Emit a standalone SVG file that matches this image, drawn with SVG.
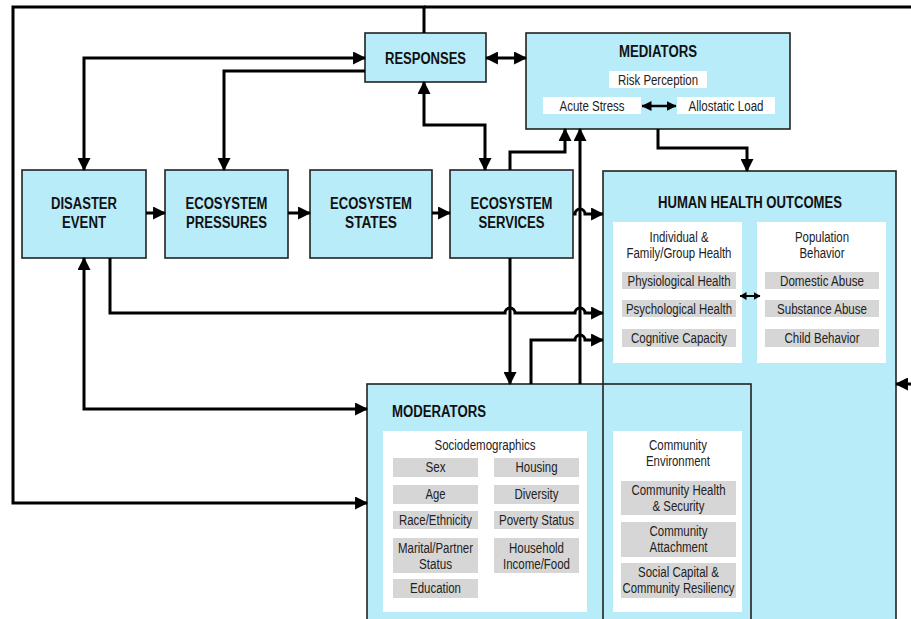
<svg xmlns="http://www.w3.org/2000/svg" width="911" height="619" viewBox="0 0 911 619">
<style>
.box{fill:#b9ecf9;stroke:#222;stroke-width:1.6}
.fill{fill:#b9ecf9}
.ol{fill:none;stroke:#222;stroke-width:1.6}
.white{fill:#fff}
.gray{fill:#d6d6d6}
.b{font-family:"Liberation Sans",Arial,sans-serif;font-weight:bold;font-size:16px;fill:#111;text-anchor:middle}
.t{font-family:"Liberation Sans",Arial,sans-serif;font-size:14px;fill:#222;text-anchor:middle}
.c{fill:none;stroke:#000;stroke-width:3}
.cs{fill:none;stroke:#000;stroke-width:2.5}
.cx{fill:none;stroke:#000;stroke-width:2}
</style>
<defs>
<marker id="a" markerUnits="userSpaceOnUse" markerWidth="13" markerHeight="13" viewBox="0 0 12 12" refX="11" refY="6" orient="auto-start-reverse"><path d="M0,0 L12,6 L0,12 z" fill="#000"/></marker>
<marker id="as" markerUnits="userSpaceOnUse" markerWidth="10" markerHeight="10" viewBox="0 0 10 10" refX="9.5" refY="5" orient="auto-start-reverse"><path d="M0,0 L10,5 L0,10 z" fill="#000"/></marker>
<marker id="ax" markerUnits="userSpaceOnUse" markerWidth="7" markerHeight="8" viewBox="0 0 7 8" refX="6.5" refY="4" orient="auto-start-reverse"><path d="M0,0 L7,4 L0,8 z" fill="#000"/></marker>
</defs>
<rect width="911" height="619" fill="#fff"/>

<g id="responses">
<rect class="box" x="365" y="33" width="121" height="49"/>
<text class="b" x="425.5" y="64" textLength="81" lengthAdjust="spacingAndGlyphs">RESPONSES</text>
</g>

<g id="mediators">
<rect class="box" x="526" y="33" width="264" height="96"/>
<text class="b" x="658" y="57" textLength="78" lengthAdjust="spacingAndGlyphs">MEDIATORS</text>
<rect class="white" x="609" y="71" width="98" height="17"/>
<text class="t" x="658" y="84.5" textLength="80" lengthAdjust="spacingAndGlyphs">Risk Perception</text>
<rect class="white" x="543" y="97" width="98" height="17"/>
<text class="t" x="592" y="110.5" textLength="65" lengthAdjust="spacingAndGlyphs">Acute Stress</text>
<rect class="white" x="677" y="97" width="98" height="17"/>
<text class="t" x="726" y="110.5" textLength="75" lengthAdjust="spacingAndGlyphs">Allostatic Load</text>
</g>

<g id="disaster-event">
<rect class="box" x="22" y="170" width="124" height="88"/>
<text class="b" x="84" y="209" textLength="66" lengthAdjust="spacingAndGlyphs">DISASTER</text>
<text class="b" x="84" y="228" textLength="44" lengthAdjust="spacingAndGlyphs">EVENT</text>
</g>

<g id="ecosystem-pressures">
<rect class="box" x="165" y="170" width="123" height="88"/>
<text class="b" x="226.5" y="209" textLength="82" lengthAdjust="spacingAndGlyphs">ECOSYSTEM</text>
<text class="b" x="226.5" y="228" textLength="81" lengthAdjust="spacingAndGlyphs">PRESSURES</text>
</g>

<g id="ecosystem-states">
<rect class="box" x="310" y="170" width="122" height="88"/>
<text class="b" x="371" y="209" textLength="82" lengthAdjust="spacingAndGlyphs">ECOSYSTEM</text>
<text class="b" x="371" y="228" textLength="52" lengthAdjust="spacingAndGlyphs">STATES</text>
</g>

<g id="ecosystem-services">
<rect class="box" x="450" y="170" width="123" height="88"/>
<text class="b" x="511.5" y="209" textLength="82" lengthAdjust="spacingAndGlyphs">ECOSYSTEM</text>
<text class="b" x="511.5" y="228" textLength="66" lengthAdjust="spacingAndGlyphs">SERVICES</text>
</g>

<g id="human-health-outcomes">
<rect class="fill" x="603" y="171" width="293" height="460"/>
<text class="b" x="750" y="208" textLength="184" lengthAdjust="spacingAndGlyphs">HUMAN HEALTH OUTCOMES</text>
<rect class="white" x="613" y="222" width="129" height="141"/>
<text class="t" x="679" y="242" textLength="59" lengthAdjust="spacingAndGlyphs">Individual &amp;</text>
<text class="t" x="679" y="258" textLength="105" lengthAdjust="spacingAndGlyphs">Family/Group Health</text>
<rect class="gray" x="622" y="272" width="114" height="17"/>
<text class="t" x="679" y="285.5" textLength="103" lengthAdjust="spacingAndGlyphs">Physiological Health</text>
<rect class="gray" x="622" y="300" width="114" height="17"/>
<text class="t" x="679" y="313.5" textLength="106" lengthAdjust="spacingAndGlyphs">Psychological Health</text>
<rect class="gray" x="622" y="329" width="114" height="18"/>
<text class="t" x="679" y="342.5" textLength="96" lengthAdjust="spacingAndGlyphs">Cognitive Capacity</text>
<rect class="white" x="757" y="222" width="129" height="141"/>
<text class="t" x="822" y="242" textLength="54" lengthAdjust="spacingAndGlyphs">Population</text>
<text class="t" x="822" y="258" textLength="45" lengthAdjust="spacingAndGlyphs">Behavior</text>
<rect class="gray" x="765" y="272" width="114" height="17"/>
<text class="t" x="822" y="285.5" textLength="84" lengthAdjust="spacingAndGlyphs">Domestic Abuse</text>
<rect class="gray" x="765" y="300" width="114" height="17"/>
<text class="t" x="822" y="313.5" textLength="90" lengthAdjust="spacingAndGlyphs">Substance Abuse</text>
<rect class="gray" x="765" y="329" width="114" height="18"/>
<text class="t" x="822" y="342.5" textLength="75" lengthAdjust="spacingAndGlyphs">Child Behavior</text>
<path class="cx" d="M740 296 H760" marker-start="url(#ax)" marker-end="url(#ax)"/>
</g>

<g id="moderators">
<rect class="fill" x="367" y="384" width="384" height="247"/>
<text class="b" x="392" y="417" style="text-anchor:start" textLength="94" lengthAdjust="spacingAndGlyphs">MODERATORS</text>
<rect class="white" x="383" y="431" width="204" height="181"/>
<text class="t" x="485" y="450" textLength="101" lengthAdjust="spacingAndGlyphs">Sociodemographics</text>
<rect class="gray" x="393" y="458" width="85" height="19"/>
<text class="t" x="435.5" y="472" textLength="20" lengthAdjust="spacingAndGlyphs">Sex</text>
<rect class="gray" x="494" y="458" width="85" height="19"/>
<text class="t" x="536.5" y="472" textLength="42" lengthAdjust="spacingAndGlyphs">Housing</text>
<rect class="gray" x="393" y="485" width="85" height="19"/>
<text class="t" x="435.5" y="499" textLength="20" lengthAdjust="spacingAndGlyphs">Age</text>
<rect class="gray" x="494" y="485" width="85" height="19"/>
<text class="t" x="536.5" y="499" textLength="44" lengthAdjust="spacingAndGlyphs">Diversity</text>
<rect class="gray" x="393" y="511" width="85" height="18"/>
<text class="t" x="435.5" y="524.5" textLength="73" lengthAdjust="spacingAndGlyphs">Race/Ethnicity</text>
<rect class="gray" x="494" y="511" width="85" height="18"/>
<text class="t" x="536.5" y="524.5" textLength="75" lengthAdjust="spacingAndGlyphs">Poverty Status</text>
<rect class="gray" x="393" y="538" width="85" height="35"/>
<text class="t" x="435.5" y="553" textLength="75" lengthAdjust="spacingAndGlyphs">Marital/Partner</text>
<text class="t" x="435.5" y="568.5" textLength="33" lengthAdjust="spacingAndGlyphs">Status</text>
<rect class="gray" x="494" y="538" width="85" height="35"/>
<text class="t" x="536.5" y="553" textLength="55" lengthAdjust="spacingAndGlyphs">Household</text>
<text class="t" x="536.5" y="568.5" textLength="67" lengthAdjust="spacingAndGlyphs">Income/Food</text>
<rect class="gray" x="393" y="579" width="85" height="19"/>
<text class="t" x="435.5" y="593" textLength="51" lengthAdjust="spacingAndGlyphs">Education</text>
<rect class="white" x="613" y="431" width="129" height="181"/>
<text class="t" x="678" y="450" textLength="58" lengthAdjust="spacingAndGlyphs">Community</text>
<text class="t" x="678" y="466" textLength="64" lengthAdjust="spacingAndGlyphs">Environment</text>
<rect class="gray" x="621" y="481" width="115" height="34"/>
<text class="t" x="678.5" y="494.5" textLength="94" lengthAdjust="spacingAndGlyphs">Community Health</text>
<text class="t" x="678.5" y="510.5" textLength="52" lengthAdjust="spacingAndGlyphs">&amp; Security</text>
<rect class="gray" x="621" y="522" width="115" height="35"/>
<text class="t" x="678.5" y="536" textLength="58" lengthAdjust="spacingAndGlyphs">Community</text>
<text class="t" x="678.5" y="552" textLength="58" lengthAdjust="spacingAndGlyphs">Attachment</text>
<rect class="gray" x="621" y="563" width="115" height="35"/>
<text class="t" x="678.5" y="577" textLength="81" lengthAdjust="spacingAndGlyphs">Social Capital &amp;</text>
<text class="t" x="678.5" y="593" textLength="112" lengthAdjust="spacingAndGlyphs">Community Resiliency</text>
</g>

<g id="outlines">
<rect class="ol" x="603" y="171" width="293" height="460"/>
<rect class="ol" x="367" y="384" width="384" height="247"/>
</g>

<g id="connectors">
<path class="c" d="M424 33 V7 H13 V503 H367" marker-end="url(#a)"/>
<path class="c" d="M424 7 H920 V384 H896" marker-end="url(#a)"/>
<path class="c" d="M486 58 H526" marker-start="url(#a)" marker-end="url(#a)"/>
<path class="c" d="M365 58 H84 V170" marker-start="url(#a)" marker-end="url(#a)"/>
<path class="c" d="M365 71 H224 V170" marker-end="url(#a)"/>
<path class="c" d="M424 82 V125 H485 V170" marker-start="url(#a)" marker-end="url(#a)"/>
<path class="c" d="M510 170 V152 H565 V129" marker-end="url(#a)"/>
<path class="c" d="M580 384 V129" marker-end="url(#a)"/>
<path class="c" d="M658 129 V148 H747 V171" marker-end="url(#a)"/>
<path class="c" d="M146 213 H165" marker-end="url(#a)"/>
<path class="c" d="M288 213 H310" marker-end="url(#a)"/>
<path class="c" d="M432 213 H450" marker-end="url(#a)"/>
<path class="c" d="M573 214 H575 A5 5 0 0 1 585 214 H603" marker-end="url(#a)"/>
<path class="c" d="M110 258 V313 H505 A5 5 0 0 1 515 313 H575 A5 5 0 0 1 585 313 H603" marker-end="url(#a)"/>
<path class="c" d="M510 258 V384" marker-end="url(#a)"/>
<path class="c" d="M531 384 V340 H575 A5 5 0 0 1 585 340 H603" marker-end="url(#a)"/>
<path class="c" d="M84 258 V409 H367" marker-start="url(#a)" marker-end="url(#a)"/>
<path class="cs" d="M642 106 H676" marker-start="url(#as)" marker-end="url(#as)"/>
</g>
</svg>
